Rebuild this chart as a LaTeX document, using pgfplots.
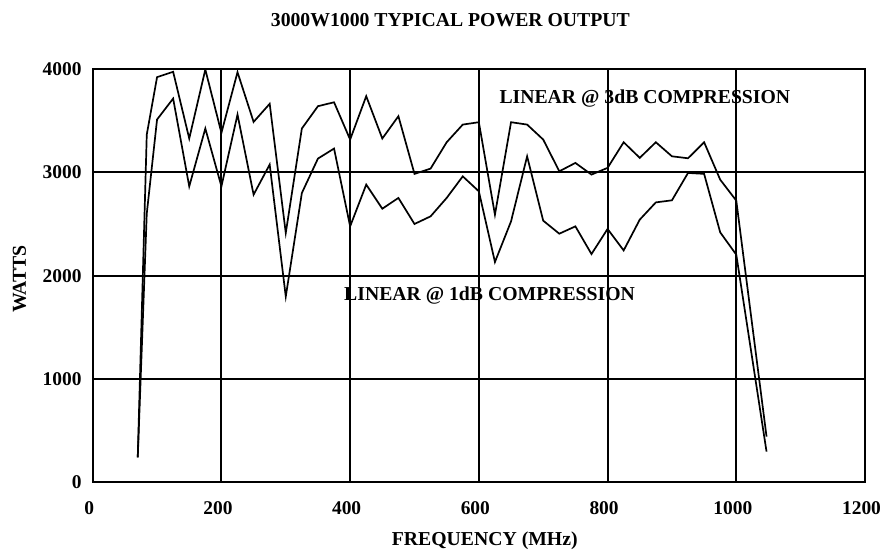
\documentclass[border=0pt]{standalone}
\usepackage{fontspec}
\setmainfont{Liberation Serif}
\usepackage{pgfplots}
\pgfplotsset{compat=1.18}
\begin{document}
\begin{tikzpicture}
\path[use as bounding box] (-92.7bp,-67.7bp) rectangle (789.3bp,482.3bp);
\begin{axis}[at={(0,0)}, anchor=south west, scale only axis,
  width=772.3bp, height=413.3bp,
  xmin=0, xmax=1200, ymin=0, ymax=4000,
  xtick={0,200,...,1200}, ytick={0,1000,...,4000},
  grid=major, major grid style={black, line width=2.1bp},
  axis line style={black, line width=2.1bp},
  major tick length=0pt,
  /pgf/number format/assume math mode=true,
  /pgf/number format/1000 sep={},
  ticklabel style={font=\fontsize{19.5}{20}\selectfont\bfseries, inner sep=0pt},
  xticklabel style={anchor=base, yshift=-32bp, xshift=-3.5bp},
  yticklabel style={anchor=east, xshift=-11bp},
]
% LINEAR @ 3dB COMPRESSION
\addplot[black, line width=1.7bp, no marks, sharp plot] coordinates {
(70,242) (84,3365) (100,3921) (125,3973) (150,3327) (175,3995) (200,3382)
(225,3969) (250,3488) (275,3663) (300,2413) (325,3424) (350,3640) (375,3678)
(400,3317) (425,3737) (450,3327) (475,3543) (500,2985) (525,3036) (550,3291)
(575,3462) (600,3485) (625,2590) (650,3485) (675,3462) (700,3317) (725,3010)
(750,3091) (775,2978) (800,3043) (825,3291) (850,3140) (875,3291) (900,3155)
(925,3136) (950,3291) (975,2929) (1000,2726) (1047,442)
};
% LINEAR @ 1dB COMPRESSION
\addplot[black, line width=1.7bp, no marks, sharp plot] coordinates {
(70,242) (84,2600) (100,3511) (125,3714) (150,2864) (175,3424) (200,2864)
(225,3559) (250,2784) (275,3075) (300,1798) (325,2800) (350,3133) (375,3230)
(400,2477) (425,2881) (450,2648) (475,2752) (500,2500) (525,2574) (550,2752)
(575,2961) (600,2816) (625,2132) (650,2525) (675,3155) (700,2532) (725,2406)
(750,2477) (775,2209) (800,2452) (825,2244) (850,2542) (875,2709) (900,2729)
(925,2994) (950,2985) (975,2419) (1000,2203) (1047,297)
};
\end{axis}
\begin{scope}[every node/.style={inner sep=0pt, font=\fontsize{19.8}{22}\selectfont\bfseries}]
\node[anchor=base west] at (178bp,455.6bp) {3000W1000 TYPICAL POWER OUTPUT};
\node[anchor=base west] at (299bp,-63.5bp) {FREQUENCY (MHz)};
\node[anchor=base west, rotate=90] at (-66.7bp,169.3bp) {WATTS};
\node[anchor=base west] at (406.6bp,379bp) {LINEAR @ 3dB COMPRESSION};
\node[anchor=base west] at (251.3bp,181.6bp) {LINEAR @ 1dB COMPRESSION};
\end{scope}
\end{tikzpicture}
\end{document}
